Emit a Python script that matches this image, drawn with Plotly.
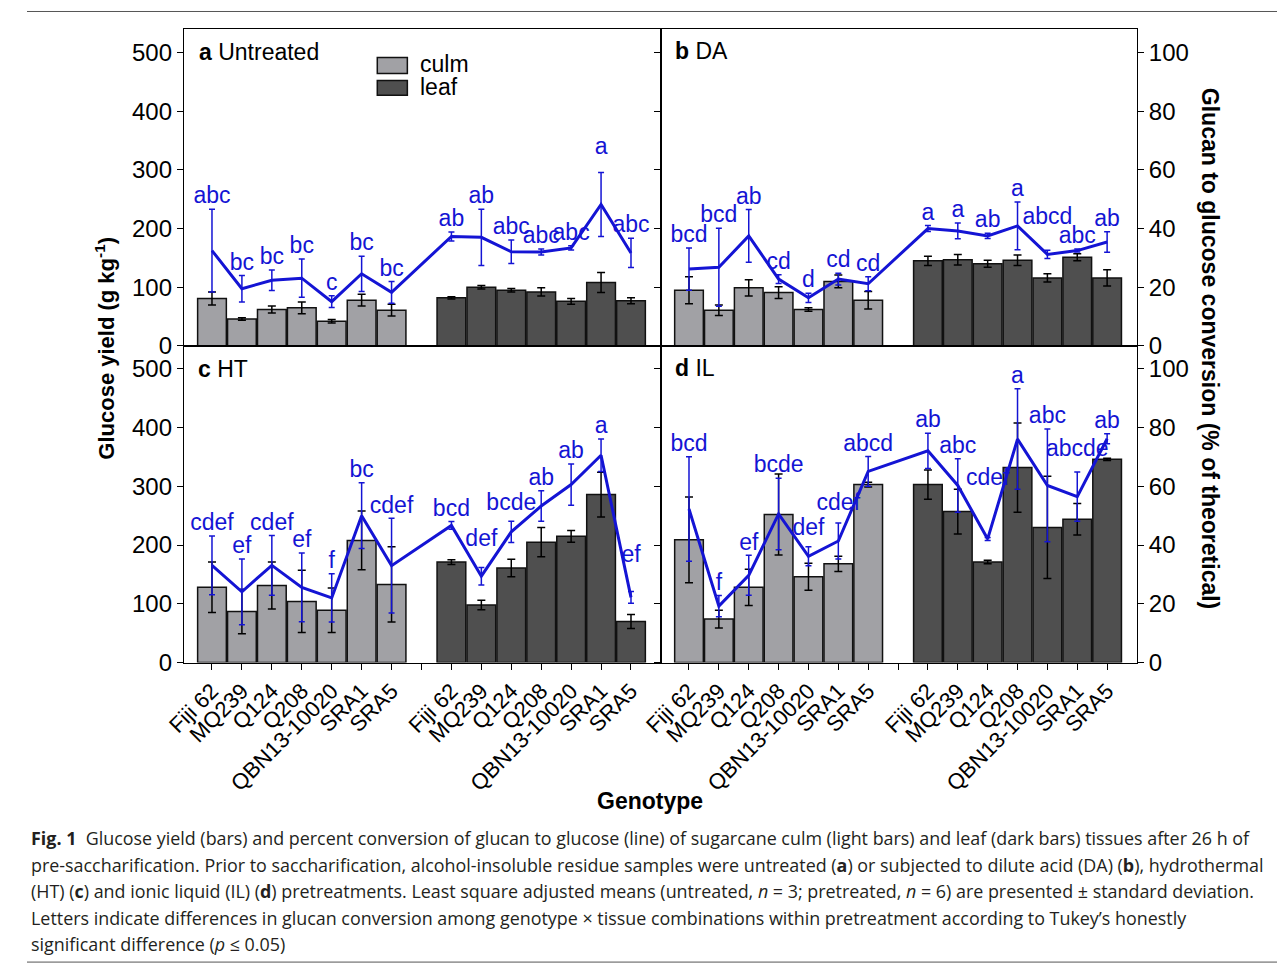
import plotly.graph_objects as go

W, H = 1285, 966
# Observed screen mapping of this viewer: screen = offset + scale * figure px
SX, OX = 0.983, 27.5
SY, OY = 0.988, 7.5

genotypes = ["Fiji 62", "MQ239", "Q124", "Q208", "QBN13-10020", "SRA1", "SRA5"]
panels = ["a", "b", "c", "d"]
panel_names = ["Untreated", "DA", "HT", "IL"]

# Glucose yield (g kg-1), mean and SD
yield_culm_a = [81, 46, 62, 65, 42, 78, 61]
yield_culm_b = [95, 61, 99, 91, 62, 110, 78]
yield_culm_c = [128, 87, 131, 104, 89, 208, 133]
yield_culm_d = [209, 74, 128, 252, 146, 168, 303]
yield_culm_sd_a = [11, 2, 6, 10, 3, 10, 10]
yield_culm_sd_b = [23, 9, 14, 10, 3, 11, 15]
yield_culm_sd_c = [43, 38, 40, 53, 38, 50, 64]
yield_culm_sd_d = [73, 15, 31, 69, 23, 13, 4]

yield_leaf_a = [82, 100, 95, 92, 76, 108, 77]
yield_leaf_b = [145, 147, 140, 146, 116, 151, 116]
yield_leaf_c = [171, 98, 161, 205, 215, 286, 70]
yield_leaf_d = [303, 257, 171, 332, 230, 244, 346]
yield_leaf_sd_a = [2, 3, 3, 7, 5, 17, 5]
yield_leaf_sd_b = [8, 9, 6, 9, 7, 6, 14]
yield_leaf_sd_c = [4, 8, 15, 25, 10, 38, 12]
yield_leaf_sd_d = [25, 38, 3, 76, 87, 27, 2]

# Glucan to glucose conversion (% of theoretical), mean and SD
conv_culm_a = [32.5, 19.5, 22.4, 23.1, 15.1, 24.6, 18.3]
conv_culm_b = [26.2, 26.8, 37.5, 22.8, 16.4, 22.8, 21.2]
conv_culm_c = [33.1, 24.1, 33.1, 25.6, 22.0, 50.0, 33.0]
conv_culm_d = [52.3, 19.2, 29.7, 50.6, 36.2, 41.4, 65.1]
conv_culm_sd_a = [14.1, 4.5, 3.5, 6.5, 2.0, 6.0, 3.7]
conv_culm_sd_b = [7.2, 13.3, 9.0, 1.5, 1.6, 2.0, 2.4]
conv_culm_sd_c = [10.0, 11.2, 10.2, 11.7, 8.2, 11.2, 16.1]
conv_culm_sd_d = [17.8, 3.6, 6.8, 12.2, 3.2, 6.1, 5.1]

conv_leaf_a = [37.3, 37.0, 32.1, 32.0, 33.4, 48.2, 31.7]
conv_leaf_b = [40.0, 39.2, 37.5, 40.9, 31.2, 32.5, 35.4]
conv_leaf_c = [46.7, 29.4, 44.5, 53.3, 60.6, 70.6, 22.2]
conv_leaf_d = [72.1, 60.3, 42.1, 76.1, 60.3, 56.5, 76.2]
conv_leaf_sd_a = [1.5, 9.6, 4.0, 1.0, 0.7, 10.9, 5.0]
conv_leaf_sd_b = [1.0, 2.7, 0.9, 8.1, 1.4, 0.5, 3.5]
conv_leaf_sd_c = [1.3, 3.0, 3.6, 5.2, 7.0, 5.5, 2.0]
conv_leaf_sd_d = [6.0, 9.1, 0.5, 17.1, 19.2, 8.4, 1.7]

# Tukey letters
letters_culm_a = ["abc", "bc", "bc", "bc", "c", "bc", "bc"]
letters_leaf_a = ["ab", "ab", "abc", "abc", "abc", "a", "abc"]
letters_culm_b = ["bcd", "bcd", "ab", "cd", "d", "cd", "cd"]
letters_leaf_b = ["a", "a", "ab", "a", "abcd", "abc", "ab"]
letters_culm_c = ["cdef", "ef", "cdef", "ef", "f", "bc", "cdef"]
letters_leaf_c = ["bcd", "def", "bcde", "ab", "ab", "a", "ef"]
letters_culm_d = ["bcd", "f", "ef", "bcde", "def", "cdef", "abcd"]
letters_leaf_d = ["ab", "abc", "cdef", "a", "abc", "abcde", "ab"]

yield_ticks = [0, 100, 200, 300, 400, 500]
conv_ticks = [0, 20, 40, 60, 80, 100]

data = {
    "a": (yield_culm_a, yield_culm_sd_a, yield_leaf_a, yield_leaf_sd_a, conv_culm_a, conv_culm_sd_a, conv_leaf_a, conv_leaf_sd_a, letters_culm_a, letters_leaf_a),
    "b": (yield_culm_b, yield_culm_sd_b, yield_leaf_b, yield_leaf_sd_b, conv_culm_b, conv_culm_sd_b, conv_leaf_b, conv_leaf_sd_b, letters_culm_b, letters_leaf_b),
    "c": (yield_culm_c, yield_culm_sd_c, yield_leaf_c, yield_leaf_sd_c, conv_culm_c, conv_culm_sd_c, conv_leaf_c, conv_leaf_sd_c, letters_culm_c, letters_leaf_c),
    "d": (yield_culm_d, yield_culm_sd_d, yield_leaf_d, yield_leaf_sd_d, conv_culm_d, conv_culm_sd_d, conv_leaf_d, conv_leaf_sd_d, letters_culm_d, letters_leaf_d),
}

# Layout-only tweaks: extra lift (in % units) for letter labels that sit higher
# in the original to avoid overlapping neighbours (index 0..13 over both tissues)
label_lift = {
    "a": {12: 4.4},
    "b": {11: 7.0},
    "c": {8: 5.5, 9: 2.0, 13: 8.0},
    "d": {4: 2.0, 5: 2.4, 9: 16.0, 12: 3.5},
}

CULM = "#a1a1a5"
LEAF = "#4f4f4f"
BLUE = "#1414d4"
FONT = "Liberation Sans, Arial, sans-serif"

x_culm = list(range(1, 8))
x_leaf = list(range(9, 16))
x_all = x_culm + x_leaf
tickvals = list(range(1, 16))
ticktext = genotypes + [""] + genotypes


def px(x):
    return ((x - OX) / SX) / W


def py(y):
    return 1 - ((y - OY) / SY) / H


x_dom = [[px(184), px(660)], [px(660), px(1135)]]
y_dom = [[py(346), py(29)], [py(663), py(346)]]

fig = go.Figure()
layout = {}

for i, key in enumerate(panels):
    (yc, ycs, yl, yls, cc, ccs, cl, cls, lc, ll) = data[key]
    col = i % 2
    row = i // 2
    n = i + 1
    xa = "x" if n == 1 else f"x{n}"
    ya = "y" if n == 1 else f"y{n}"
    ya2 = f"y{n + 4}"

    fig.add_trace(go.Bar(
        x=x_culm, y=yc, xaxis=xa, yaxis=ya, width=0.96,
        marker=dict(color=CULM, line=dict(color="#111111", width=1.5)),
        error_y=dict(type="data", array=ycs, color="black", thickness=1.5, width=4),
        showlegend=False, name="culm"))
    fig.add_trace(go.Bar(
        x=x_leaf, y=yl, xaxis=xa, yaxis=ya, width=0.96,
        marker=dict(color=LEAF, line=dict(color="#111111", width=1.5)),
        error_y=dict(type="data", array=yls, color="black", thickness=1.5, width=4),
        showlegend=False, name="leaf"))

    conv = cc + cl
    conv_sd = ccs + cls
    fig.add_trace(go.Scatter(
        x=x_all, y=conv, xaxis=xa, yaxis=ya2, mode="lines",
        line=dict(color=BLUE, width=3),
        error_y=dict(type="data", array=conv_sd, color=BLUE, thickness=1.5, width=3),
        showlegend=False, name="conversion"))
    lift = label_lift[key]
    label_y = [m + s + lift.get(j, 0) for j, (m, s) in enumerate(zip(conv, conv_sd))]
    fig.add_trace(go.Scatter(
        x=x_all, y=label_y, xaxis=xa, yaxis=ya2,
        mode="text", text=lc + ll, textposition="top center",
        textfont=dict(family=FONT, size=23, color=BLUE),
        cliponaxis=False, showlegend=False, hoverinfo="skip"))

    xkey = "xaxis" if n == 1 else f"xaxis{n}"
    ykey = "yaxis" if n == 1 else f"yaxis{n}"
    layout[xkey] = dict(
        domain=x_dom[col], anchor=ya, range=[0.06, 16.0],
        tickvals=tickvals, ticktext=ticktext, tickangle=-45,
        showticklabels=(row == 1), ticks="outside" if row == 1 else "",
        ticklen=6, tickwidth=1, tickcolor="black",
        showline=True, linecolor="black", linewidth=1, mirror=True,
        showgrid=False, zeroline=False,
        tickfont=dict(family=FONT, size=22, color="black"))
    layout[ykey] = dict(
        domain=y_dom[row], anchor=xa, range=[0, 539],
        tickvals=yield_ticks, showticklabels=(col == 0),
        ticks="outside", ticklen=6, tickwidth=1, tickcolor="black",
        showline=True, linecolor="black", linewidth=1, mirror=True,
        showgrid=False, zeroline=False,
        tickfont=dict(family=FONT, size=24, color="black"))
    layout[f"yaxis{n + 4}"] = dict(
        overlaying=ya, anchor=xa, side="right", range=[0, 107.8],
        tickvals=conv_ticks, visible=(col == 1), showticklabels=(col == 1),
        ticks="outside", ticklen=6, tickwidth=1, tickcolor="black",
        showline=False, showgrid=False, zeroline=False,
        tickfont=dict(family=FONT, size=24, color="black"))

annotations = []
title_pos = [(197, 52), (672, 51), (196, 369), (672, 368)]
for key, name, (tx, ty) in zip(panels, panel_names, title_pos):
    annotations.append(dict(
        x=px(tx), y=py(ty), xref="paper", yref="paper", xanchor="left", yanchor="middle",
        text=f"<b>{key}</b> {name}", showarrow=False,
        font=dict(family=FONT, size=23, color="black")))

annotations += [
    dict(x=px(418), y=py(64), xref="paper", yref="paper", xanchor="left", yanchor="middle",
         text="culm", showarrow=False, font=dict(family=FONT, size=23, color="black")),
    dict(x=px(418), y=py(87), xref="paper", yref="paper", xanchor="left", yanchor="middle",
         text="leaf", showarrow=False, font=dict(family=FONT, size=23, color="black")),
    dict(x=px(105), y=py(348), xref="paper", yref="paper", xanchor="center", yanchor="middle",
         text="<b>Glucose yield (g kg<sup>-1</sup>)</b>", textangle=-90, showarrow=False,
         font=dict(family=FONT, size=22, color="black")),
    dict(x=px(1208), y=py(348), xref="paper", yref="paper", xanchor="center", yanchor="middle",
         text="<b>Glucan to glucose conversion (% of theoretical)</b>", textangle=90, showarrow=False,
         font=dict(family=FONT, size=23, color="black")),
    dict(x=px(649), y=py(802), xref="paper", yref="paper", xanchor="center", yanchor="middle",
         text="<b>Genotype</b>", showarrow=False,
         font=dict(family=FONT, size=23, color="black")),
]

caption_lines = [
    "<b>Fig. 1</b>  Glucose yield (bars) and percent conversion of glucan to glucose (line) of sugarcane culm (light bars) and leaf (dark bars) tissues after 26 h of",
    "pre-saccharification. Prior to saccharification, alcohol-insoluble residue samples were untreated (<b>a</b>) or subjected to dilute acid (DA) (<b>b</b>), hydrothermal",
    "(HT) (<b>c</b>) and ionic liquid (IL) (<b>d</b>) pretreatments. Least square adjusted means (untreated, <i>n</i> = 3; pretreated, <i>n</i> = 6) are presented ± standard deviation.",
    "Letters indicate differences in glucan conversion among genotype × tissue combinations within pretreatment according to Tukey’s honestly",
    "significant difference (<i>p</i> ≤ 0.05)",
]
cap_y = [839, 866, 892, 919, 945]
for line, cy in zip(caption_lines, cap_y):
    annotations.append(dict(
        x=px(29), y=py(cy), xref="paper", yref="paper", xanchor="left", yanchor="middle",
        text=line, showarrow=False, font=dict(family="Open Sans", size=17.9, color="#231f20")))

shapes = [
    dict(type="rect", xref="paper", yref="paper", x0=px(377), x1=px(407), y0=py(73), y1=py(57),
         fillcolor=CULM, line=dict(color="#111111", width=1.5)),
    dict(type="rect", xref="paper", yref="paper", x0=px(377), x1=px(407), y0=py(95), y1=py(80),
         fillcolor=LEAF, line=dict(color="#111111", width=1.5)),
    dict(type="line", xref="paper", yref="paper", x0=0, x1=1.01, y0=py(11), y1=py(11),
         line=dict(color="#555555", width=1)),
    dict(type="line", xref="paper", yref="paper", x0=0, x1=1.01, y0=py(963), y1=py(963),
         line=dict(color="#555555", width=1)),
]

fig.update_layout(
    width=W, height=H, margin=dict(l=0, r=0, t=0, b=0),
    paper_bgcolor="white", plot_bgcolor="rgba(0,0,0,0)",
    barmode="overlay", showlegend=False,
    annotations=annotations, shapes=shapes,
    font=dict(family=FONT, color="black"),
    **layout)

fig.write_html("out.html")
